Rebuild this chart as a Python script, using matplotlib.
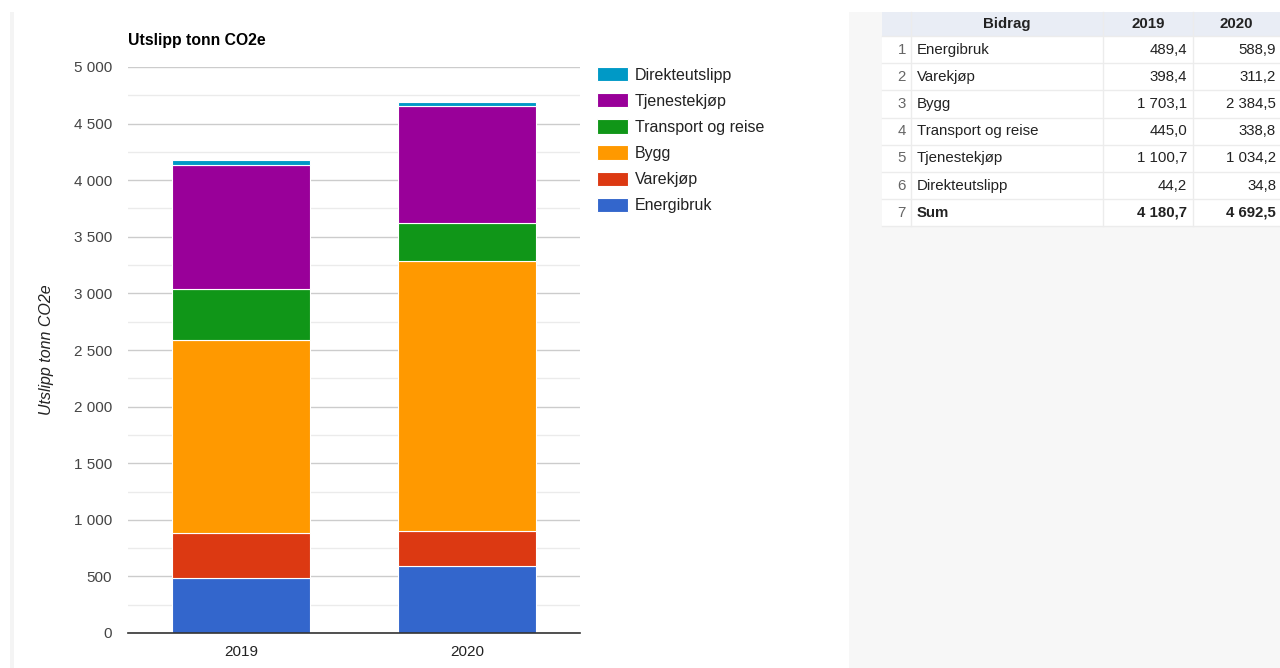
import matplotlib
matplotlib.use("Agg")
import matplotlib.pyplot as plt
from matplotlib.patches import Rectangle
import numpy as np

plt.rcParams['font.family'] = ['Liberation Sans', 'DejaVu Sans']

years = ["2019", "2020"]
categories = ["Energibruk", "Varekjøp", "Bygg", "Transport og reise", "Tjenestekjøp", "Direkteutslipp"]
values_2019 = [489.4, 398.4, 1703.1, 445.0, 1100.7, 44.2]
values_2020 = [588.9, 311.2, 2384.5, 338.8, 1034.2, 34.8]
sum_2019 = 4180.7
sum_2020 = 4692.5
colors = ["#3366cc", "#dc3912", "#ff9900", "#109618", "#990099", "#0099c6"]
y_ticks = [0, 500, 1000, 1500, 2000, 2500, 3000, 3500, 4000, 4500, 5000]
title = "Utslipp tonn CO2e"
table_header = ["Bidrag", "2019", "2020"]


def fmt(v, dec=0):
    s = f"{v:,.{dec}f}"
    return s.replace(",", " ").replace(".", ",")


W, H = 1280, 668
fig = plt.figure(figsize=(W / 100, H / 100), dpi=100)
fig.patch.set_facecolor("white")

# background overlay axes in pixel coords
bg = fig.add_axes([0, 0, 1, 1], zorder=0)
bg.set_xlim(0, W)
bg.set_ylim(H, 0)
bg.axis("off")
bg.add_patch(Rectangle((10, 12), 4, H - 12, color="#f4f4f4", lw=0))
bg.add_patch(Rectangle((849, 12), W - 849, H - 12, color="#f7f7f7", lw=0))

# table
tx0, tx_idx, tx_name, tx_2019, tx_end = 882, 911, 1103, 1193, 1280
head_top, head_bot = 12, 36
row_h = 27.2
nrows = len(categories) + 1
tab_bot = head_bot + nrows * row_h
bg.add_patch(Rectangle((tx0, head_top), tx_end - tx0, head_bot - head_top, color="#e9edf5", lw=0))
bg.add_patch(Rectangle((tx0, head_bot), tx_end - tx0, tab_bot - head_bot, color="white", lw=0))
for i in range(nrows + 1):
    y = head_bot + i * row_h
    bg.plot([tx0, tx_end], [y, y], color="#ececec", lw=1)
for x in [tx_idx, tx_name, tx_2019]:
    bg.plot([x, x], [head_top, tab_bot], color="#ececec", lw=1)
hc = (head_top + head_bot) / 2
tfs = 10.8
bg.text((tx_idx + tx_name) / 2, hc, table_header[0], ha="center", va="center", fontsize=tfs, fontweight="bold", color="#222")
bg.text((tx_name + tx_2019) / 2, hc, table_header[1], ha="center", va="center", fontsize=tfs, fontweight="bold", color="#222")
bg.text((tx_2019 + tx_end) / 2, hc, table_header[2], ha="center", va="center", fontsize=tfs, fontweight="bold", color="#222")
rows = list(zip(categories, values_2019, values_2020)) + [("Sum", sum_2019, sum_2020)]
for i, (name, a, b) in enumerate(rows):
    yc = head_bot + (i + 0.5) * row_h
    bold = name == "Sum"
    fw = "bold" if bold else "normal"
    bg.text(tx_idx - 5, yc, str(i + 1), ha="right", va="center", fontsize=tfs, color="#666")
    bg.text(tx_idx + 6, yc, name, ha="left", va="center", fontsize=tfs, color="#222", fontweight=fw)
    bg.text(tx_2019 - 6, yc, fmt(a, 1), ha="right", va="center", fontsize=tfs, color="#222", fontweight=fw)
    bg.text(tx_end - 4, yc, fmt(b, 1), ha="right", va="center", fontsize=tfs, color="#222", fontweight=fw)

# chart
ax = fig.add_axes([128 / W, 1 - 633 / H, 452 / W, 566 / H], zorder=1)
ax.set_facecolor("none")
x = np.arange(len(years))
bottom = np.zeros(len(years))
for cat, v19, v20, c in zip(categories, values_2019, values_2020, colors):
    vals = np.array([v19, v20])
    ax.bar(x, vals, bottom=bottom, width=0.615, color=c, edgecolor="white", linewidth=0.8, label=cat, zorder=3)
    bottom += vals
ax.set_xlim(-0.5, len(years) - 0.5)
ax.set_ylim(0, 5000)
ax.set_yticks(y_ticks)
ax.set_yticklabels([fmt(t) for t in y_ticks], fontsize=11, color="#444")
ax.set_yticks(np.arange(250, 5000, 500), minor=True)
ax.set_xticks(x)
ax.set_xticklabels(years, fontsize=11, color="#222")
ax.tick_params(axis="both", which="both", length=0)
ax.tick_params(axis="y", pad=11.5)
ax.tick_params(axis="x", pad=9)
ax.grid(axis="y", which="major", color="#cccccc", lw=1, zorder=0)
ax.grid(axis="y", which="minor", color="#ebebeb", lw=1, zorder=0)
for s in ["top", "right", "left"]:
    ax.spines[s].set_visible(False)
ax.spines["bottom"].set_color("#333333")
ax.spines["bottom"].set_linewidth(1.2)
ax.spines["bottom"].set_zorder(4)
ax.set_ylabel(title, fontsize=11.5, style="italic", color="#222", labelpad=14)
fig.text(128 / W, 1 - 40 / H, title, fontsize=11.3, fontweight="bold", color="#000", va="center", ha="left")

handles, labels = ax.get_legend_handles_labels()
leg = ax.legend(handles[::-1], labels[::-1], loc="upper left", bbox_to_anchor=((597 - 128) / 452, 1.0),
                frameon=False, fontsize=11.5, handlelength=1.95, handleheight=1.0,
                labelspacing=0.66, handletextpad=0.4, borderaxespad=0, borderpad=0)
for t in leg.get_texts():
    t.set_color("#222")

fig.savefig("out.png", dpi=100, facecolor="white")
